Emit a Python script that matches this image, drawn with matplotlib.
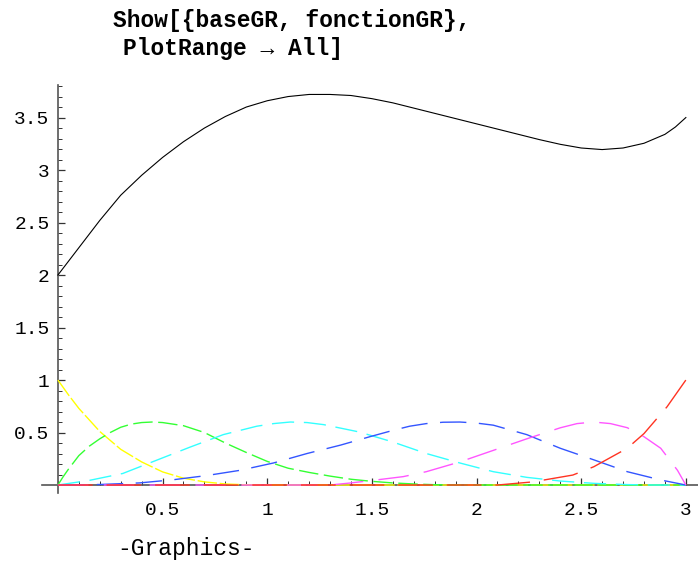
import numpy as np
import matplotlib
matplotlib.use("Agg")
import matplotlib.pyplot as plt
from matplotlib.ticker import MultipleLocator, FixedLocator

# function curve (black)
fx = [0, 0.05, 0.1, 0.2, 0.3, 0.4, 0.5, 0.6, 0.7, 0.8, 0.9, 1.0, 1.1, 1.2,
      1.3, 1.4, 1.5, 1.6, 1.7, 1.8, 1.9, 2.0, 2.1, 2.2, 2.3, 2.4, 2.5, 2.6,
      2.7, 2.8, 2.9, 2.95, 3.0]
fy = [2.0, 2.13, 2.26, 2.52, 2.76, 2.95, 3.12, 3.27, 3.40, 3.51, 3.60, 3.66,
      3.70, 3.72, 3.72, 3.71, 3.68, 3.64, 3.59, 3.54, 3.49, 3.44, 3.39, 3.34,
      3.29, 3.245, 3.21, 3.195, 3.21, 3.255, 3.34, 3.41, 3.50]

# basis functions
yel_x = [0, 0.05, 0.1, 0.15, 0.2, 0.3, 0.4, 0.5, 0.6, 0.7, 0.8, 0.9, 1.0, 3.0]
yel_y = [1, 0.86, 0.73, 0.62, 0.51, 0.34, 0.22, 0.125, 0.065, 0.03, 0.01,
         0.002, 0, 0]

grn_x = [0, 0.024, 0.05, 0.1, 0.15, 0.2, 0.25, 0.3, 0.35, 0.4, 0.45, 0.5,
         0.6, 0.7, 0.8, 0.9, 1.0, 1.1, 1.2, 1.3, 1.4, 1.5, 1.6, 1.7, 1.8,
         1.9, 2.0, 3.0]
grn_y = [0, 0.076, 0.15, 0.28, 0.37, 0.44, 0.50, 0.55, 0.58, 0.595, 0.60,
         0.595, 0.565, 0.50, 0.40, 0.31, 0.225, 0.16, 0.12, 0.085, 0.055,
         0.035, 0.02, 0.01, 0.003, 0, 0, 0]

cya_x = [0, 0.15, 0.31, 0.47, 0.63, 0.79, 0.95, 1.03, 1.11, 1.19, 1.27, 1.44,
         1.60, 1.76, 1.92, 2.08, 2.24, 2.40, 2.56, 2.72, 2.85, 3.0]
cya_y = [0, 0.044, 0.11, 0.235, 0.36, 0.48, 0.56, 0.585, 0.60, 0.595, 0.575,
         0.505, 0.41, 0.30, 0.21, 0.127, 0.073, 0.038, 0.016, 0.004, 0, 0]

blu_x = [0, 0.2, 0.39, 0.55, 0.71, 0.87, 1.03, 1.19, 1.35, 1.49, 1.60, 1.68,
         1.76, 1.84, 1.92, 2.0, 2.08, 2.24, 2.40, 2.56, 2.72, 2.88, 3.0]
blu_y = [0, 0.005, 0.02, 0.05, 0.09, 0.14, 0.21, 0.30, 0.38, 0.46, 0.52,
         0.56, 0.585, 0.598, 0.60, 0.59, 0.57, 0.48, 0.35, 0.24, 0.127, 0.048, 0]

mag_x = [0, 1.3, 1.4, 1.52, 1.65, 1.76, 1.92, 2.08, 2.24, 2.40, 2.48, 2.56,
         2.64, 2.72, 2.80, 2.88, 2.96, 3.0]
mag_y = [0, 0, 0.02, 0.048, 0.08, 0.127, 0.22, 0.33, 0.44, 0.545, 0.585, 0.60,
         0.585, 0.546, 0.46, 0.35, 0.14, 0]

red_x = [0, 2.1, 2.27, 2.46, 2.56, 2.72, 2.80, 2.91, 3.0]
red_y = [0, 0, 0.03, 0.095, 0.174, 0.35, 0.49, 0.745, 1.0]

xticks = [0.5, 1, 1.5, 2, 2.5, 3]
xlabels = ["0.5", "1", "1.5", "2", "2.5", "3"]
yticks = [0.5, 1, 1.5, 2, 2.5, 3, 3.5]
ylabels = ["0.5", "1", "1.5", "2", "2.5", "3", "3.5"]

plt.rcParams['lines.scale_dashes'] = False
mono = ['Liberation Mono', 'DejaVu Sans Mono']

fig = plt.figure(figsize=(6.98, 5.62), dpi=100)
ax = fig.add_axes([42/698, 1-493/562, 656/698, 408/562])

basis = [
    (yel_x, yel_y, '#ffff00', (14, 2)),
    (grn_x, grn_y, '#33ff33', (14, 4)),
    (cya_x, cya_y, '#33ffff', (16, 7)),
    (blu_x, blu_y, '#3355ff', (19, 9)),
    (mag_x, mag_y, '#ff55ff', (22, 11)),
    (red_x, red_y, '#ff3322', (25, 10)),
]
for bx, by, col, dash in basis:
    ax.plot(bx, by, color=col, lw=1.0, dashes=dash, zorder=3)

ax.plot(fx, fy, color='black', lw=0.8, zorder=4)

ax.set_xlim(-0.076, 3.058)
ax.set_ylim(-0.076, 3.81)

for s in ['top', 'right']:
    ax.spines[s].set_visible(False)
for s in ['left', 'bottom']:
    ax.spines[s].set_position(('data', 0))
    ax.spines[s].set_color('#555555')
    ax.spines[s].set_linewidth(1.2)
    ax.spines[s].set_zorder(2)

ax.xaxis.set_major_locator(FixedLocator(xticks))
ax.set_xticklabels(xlabels)
ax.yaxis.set_major_locator(FixedLocator(yticks))
ax.set_yticklabels(ylabels)
ax.xaxis.set_minor_locator(MultipleLocator(0.1))
ax.yaxis.set_minor_locator(MultipleLocator(0.1))
ax.tick_params(which='major', direction='in', length=5, width=0.9, color='#333333')
ax.tick_params(which='minor', direction='in', length=3, width=0.7, color='#333333')
ax.tick_params(axis='x', which='major', pad=12)
ax.tick_params(axis='y', which='major', pad=6)
for lab in ax.get_xticklabels() + ax.get_yticklabels():
    lab.set_family(mono)
    lab.set_fontsize(14)

fig.text(113/698, 1-21/562, "Show[{baseGR, fonctionGR},", family=mono,
         fontsize=16.5, weight='bold', va='center', ha='left')
fig.text(123/698, 1-48/562, "PlotRange \u2192 All]", family=mono,
         fontsize=16.5, weight='bold', va='center', ha='left')
fig.text(117/698, 1-548/562, "-Graphics-", family=mono,
         fontsize=16.5, va='center', ha='left')

fig.savefig("out.png", dpi=100)
